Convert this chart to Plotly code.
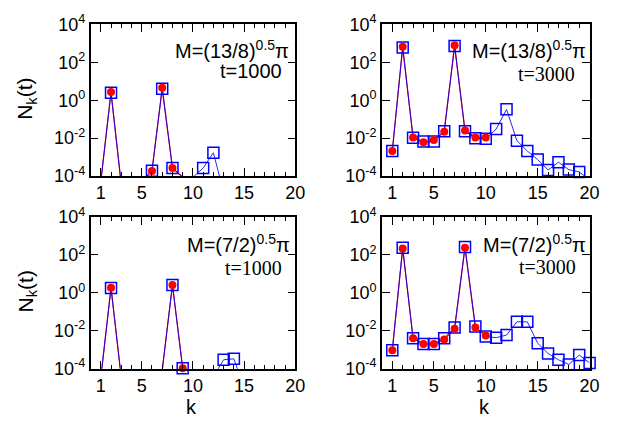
import numpy as np
import plotly.graph_objects as go

W, H = 638, 428

k_red = list(range(1, 11))
k_blue = list(range(1, 21))

# Panel (a): M=(13/8)^0.5 pi, t=1000
red_a = [5.2e-5, 2.7, 3.6e-5, 3.2e-6, 5.4e-5, 1.86e-4, 4.5, 2.7e-4, 8.7e-5, 2.5e-5]
blue_a = [5.2e-5, 2.5, 3.6e-5, 3.2e-6, 5.4e-5, 1.9e-4, 4.0, 2.7e-4, 8.7e-5, 8.5e-5,
          2.7e-4, 1.7e-3, 1.4e-5, 3.0e-6, 1.0e-6, 6.0e-7, 3.0e-7, 1.6e-7, 1.0e-7, 6.0e-8]
# Panel (b): M=(13/8)^0.5 pi, t=3000
red_b = [2.1e-3, 660, 1.07e-2, 6.0e-3, 7.9e-3, 2.2e-2, 790, 2.5e-2, 1.07e-2, 1.07e-2]
blue_b = [2.1e-3, 600, 1.05e-2, 6.6e-3, 6.6e-3, 2.3e-2, 710, 2.3e-2, 1.0e-2, 9.3e-3,
          3.0e-2, 0.33, 7.4e-3, 2.1e-3, 7.4e-4, 2.1e-4, 5.4e-4, 2.2e-4, 1.66e-4, 6.3e-5]
# Panel (c): M=(7/2)^0.5 pi, t=1000
red_c = [3.4e-5, 1.86, 3.4e-5, 1.0e-6, 1.0e-6, 3.2e-6, 8.3e-5, 2.6, 1.05e-4, 1.0e-5]
blue_c = [3.4e-5, 1.78, 3.4e-5, 1.0e-6, 1.0e-6, 3.2e-6, 8.3e-5, 2.6, 1.05e-4, 1.0e-5,
          3.2e-6, 3.8e-5, 2.95e-4, 3.3e-4, 1.0e-5, 1.0e-6, 5.0e-7, 3.0e-7, 2.0e-7, 1.0e-7]
# Panel (d): M=(7/2)^0.5 pi, t=3000
red_d = [9.3e-4, 214, 4.0e-3, 2.0e-3, 2.0e-3, 3.5e-3, 1.26e-2, 240, 1.5e-2, 5.6e-3]
blue_d = [9.3e-4, 234, 4.0e-3, 2.0e-3, 2.0e-3, 4.0e-3, 1.48e-2, 263, 1.66e-2, 5.0e-3,
          4.3e-3, 5.9e-3, 2.95e-2, 2.95e-2, 2.2e-3, 6.3e-4, 2.95e-4, 1.66e-4, 5.2e-4, 2.0e-4]

x_tickvals = [1, 5, 10, 15, 20]
x_ticktext = ["1", "5", "10", "15", "20"]
y_tickvals = [1e-4, 1e-2, 1e0, 1e2, 1e4]
y_ticktext = ["10<sup>-4</sup>", "10<sup>-2</sup>", "10<sup>0</sup>", "10<sup>2</sup>", "10<sup>4</sup>"]

SANS = "Liberation Sans"
SERIF = "Liberation Serif"

panels = [
    dict(red=red_a, blue=blue_a, box=(92, 300, 13, 173), label="M=(13/8)<sup>0.5</sup>π",
         tlabel="t=1000", tfont=SANS, mx=296, my=40, tx=289, ty=62),
    dict(red=red_b, blue=blue_b, box=(388, 599, 13, 173), label="M=(13/8)<sup>0.5</sup>π",
         tlabel="t=3000", tfont=SERIF, mx=597, my=40, tx=586, ty=65),
    dict(red=red_c, blue=blue_c, box=(92, 300, 216, 376), label="M=(7/2)<sup>0.5</sup>π",
         tlabel="t=1000", tfont=SERIF, mx=297, my=244, tx=289, ty=270),
    dict(red=red_d, blue=blue_d, box=(388, 599, 216, 376), label="M=(7/2)<sup>0.5</sup>π",
         tlabel="t=3000", tfont=SERIF, mx=597, my=244, tx=587, ty=269),
]

fig = go.Figure()
annotations = []
LOW = 1e-4 * 0.97

for i, p in enumerate(panels):
    sfx = "" if i == 0 else str(i + 1)
    xa, ya = "x" + sfx, "y" + sfx
    x0, x1, y0, y1 = p["box"]
    red = np.array(p["red"], dtype=float)
    blue = np.array(p["blue"], dtype=float)
    red_vis = [v if v >= LOW else None for v in red]
    blue_vis = [v if v >= LOW else None for v in blue]

    fig.add_trace(go.Scatter(x=k_red, y=red, mode="lines", line=dict(color="#ff0000", width=1.2),
                             xaxis=xa, yaxis=ya, showlegend=False, hoverinfo="skip"))
    fig.add_trace(go.Scatter(x=k_blue, y=blue, mode="lines", line=dict(color="#0000ff", width=1),
                             opacity=0.85, xaxis=xa, yaxis=ya, showlegend=False, hoverinfo="skip"))
    fig.add_trace(go.Scatter(x=k_blue, y=blue_vis, mode="markers",
                             marker=dict(symbol="square-open", size=11, color="#0000ff",
                                         line=dict(color="#0000ff", width=1.5)),
                             cliponaxis=False, xaxis=xa, yaxis=ya, showlegend=False))
    fig.add_trace(go.Scatter(x=k_red, y=red_vis, mode="markers",
                             marker=dict(symbol="circle", size=8, color="#ff0000", line=dict(width=0)),
                             cliponaxis=False, xaxis=xa, yaxis=ya, showlegend=False))

    xdom = [x0 / W, x1 / W]
    ydom = [1 - y1 / H, 1 - y0 / H]
    bottom = i >= 2
    left = i % 2 == 0
    fig.layout["xaxis" + sfx] = dict(
        domain=xdom, anchor=ya, range=[0, 20], tickmode="array", tickvals=x_tickvals,
        ticktext=x_ticktext, ticks="inside", ticklen=8, tickwidth=1, tickcolor="black",
        minor=dict(tickmode="linear", tick0=0, dtick=1, ticks="inside", ticklen=4,
                   tickwidth=1, tickcolor="black"),
        showline=True, linecolor="black", linewidth=1.5, mirror="allticks",
        showgrid=False, zeroline=False, tickfont=dict(family=SANS, size=18, color="black"),
    )
    fig.layout["yaxis" + sfx] = dict(
        domain=ydom, anchor=xa, type="log", range=[-4, 4], tickmode="array",
        tickvals=y_tickvals, ticktext=y_ticktext, ticks="inside", ticklen=8, tickwidth=1,
        tickcolor="black", showline=True, linecolor="black", linewidth=1.5, mirror="allticks",
        showgrid=False, zeroline=False, tickfont=dict(family=SANS, size=18, color="black"),
    )
    annotations.append(dict(text=p["label"], x=p["mx"] / W, y=1 - p["my"] / H, xref="paper",
                            yref="paper", xanchor="right", yanchor="middle", showarrow=False,
                            font=dict(family=SANS, size=20, color="black")))
    annotations.append(dict(text=p["tlabel"], x=p["tx"] / W, y=1 - p["ty"] / H, xref="paper",
                            yref="paper", xanchor="right", yanchor="middle", showarrow=False,
                            font=dict(family=p["tfont"], size=20, color="black")))
    if left:
        annotations.append(dict(text="N<sub>k</sub>(t)", x=27 / W, y=1 - ((y0 + y1) / 2 - 1) / H,
                                xref="paper", yref="paper", xanchor="center", yanchor="middle",
                                textangle=-90, showarrow=False,
                                font=dict(family=SANS, size=21, color="black")))
    if bottom:
        annotations.append(dict(text="k", x=((x0 + x1) / 2 - 1) / W, y=1 - 416 / H,
                                xref="paper", yref="paper", xanchor="center", yanchor="middle",
                                showarrow=False, font=dict(family=SANS, size=20, color="black")))

fig.update_layout(width=W, height=H, margin=dict(l=0, r=0, t=0, b=0),
                  paper_bgcolor="white", plot_bgcolor="white", annotations=annotations)
fig.write_html("out.html")
